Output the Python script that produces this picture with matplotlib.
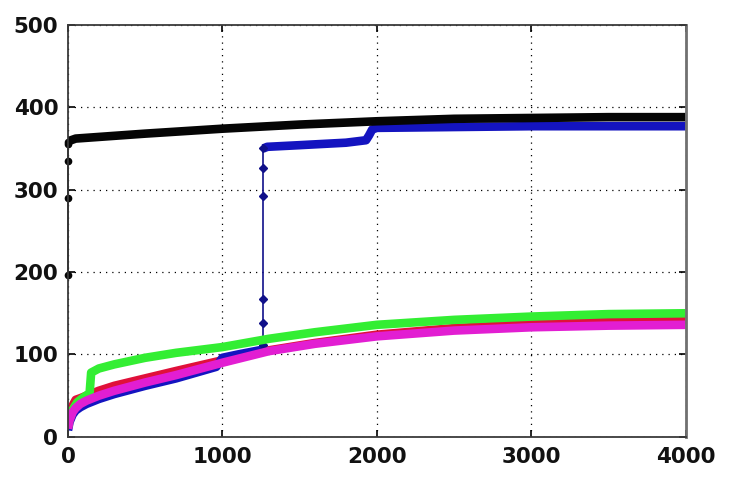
import numpy as np
import matplotlib.pyplot as plt

# lower curves (red / magenta share the same sample x)
x_low = [0, 10, 30, 50, 80, 120, 200, 300, 500, 700, 1000, 1300, 1600, 2000, 2500, 3000, 3500, 4000]
red_y = [12, 25, 38, 45, 47, 50, 56, 62, 71, 80, 93, 105, 114, 124, 132, 137, 140, 142]
magenta_y = [10, 20, 30, 35, 40, 44, 50, 56, 66, 75, 90, 104, 113, 122, 129, 133, 135, 136]

green_x = [0, 10, 30, 60, 100, 140, 150, 200, 300, 500, 700, 1000, 1300, 1600, 2000, 2500, 3000, 3500, 4000]
green_y = [12, 22, 33, 42, 48, 53, 78, 83, 88, 96, 102, 109, 119, 127, 136, 142, 146, 149, 150]

# blue: lower branch, jump at ~1265, upper branch
blue_lo_x = [0, 10, 30, 50, 80, 120, 200, 300, 500, 700, 960, 1000, 1100, 1265]
blue_lo_y = [8, 18, 27, 32, 36, 40, 46, 52, 62, 71, 85, 96, 100, 106]
blue_jump_x = [1265, 1265, 1265, 1265, 1265, 1265, 1265]
blue_jump_y = [106, 112, 138, 167, 292, 326, 350]
blue_hi_x = [1265, 1290, 1500, 1800, 1930, 1950, 1970, 2000, 2500, 3000, 3500, 4000]
blue_hi_y = [350, 352, 354, 357, 360, 366, 373, 375, 376, 377, 377, 377]

# black: start-up points at x=0, then slow rise
black_jump_x = [0, 0, 0, 0, 0]
black_jump_y = [197, 290, 335, 355, 358]
black_x = [0, 20, 50, 200, 500, 1000, 1500, 2000, 2500, 3000, 3500, 4000]
black_y = [358, 360, 362, 364, 368, 374, 379, 383, 386, 387, 388, 388]

xticks = [0, 1000, 2000, 3000, 4000]
yticks = [0, 100, 200, 300, 400, 500]

c_black = '#050505'
c_blue = '#1414c0'
c_red = '#e0103a'
c_green = '#33ee33'
c_mag = '#e21ed2'

fig = plt.figure(figsize=(7.31, 4.78), dpi=100)
ax = fig.add_axes([0.093, 0.086, 0.845, 0.862])

band = dict(lw=6.2, solid_capstyle='butt', solid_joinstyle='round')
ax.plot(x_low, red_y, color=c_red, **band)
ax.plot(blue_lo_x, blue_lo_y, color=c_blue, **band)
ax.plot(blue_hi_x, blue_hi_y, color=c_blue, **band)
ax.plot(blue_jump_x, blue_jump_y, color='#10108a', lw=1.2, marker='D', ms=4.5)
ax.plot(green_x, green_y, color=c_green, **band)
ax.plot(x_low, magenta_y, color=c_mag, **band)
ax.plot(black_x, black_y, color=c_black, **band)
ax.plot(black_jump_x, black_jump_y, color=c_black, lw=1.2, marker='o', ms=4.5, clip_on=False)

ax.set_xlim(0, 4000)
ax.set_ylim(0, 500)
ax.set_xticks(xticks)
ax.set_yticks(yticks)
ax.grid(True, color='black', linestyle=(0, (1, 4)), linewidth=0.9)
ax.set_axisbelow(True)

for s in ax.spines.values():
    s.set_color('#3a3a3a')
    s.set_linewidth(1.3)
ax.spines['right'].set_color('#707070')
ax.spines['right'].set_linewidth(2)

ax.tick_params(direction='in', length=5, width=1.2, top=True, right=True,
               labelsize=15.5, pad=7)
for lab in ax.get_xticklabels() + ax.get_yticklabels():
    lab.set_fontweight('bold')
    lab.set_color('#111111')

fig.savefig('out.png', dpi=100, facecolor='white')
